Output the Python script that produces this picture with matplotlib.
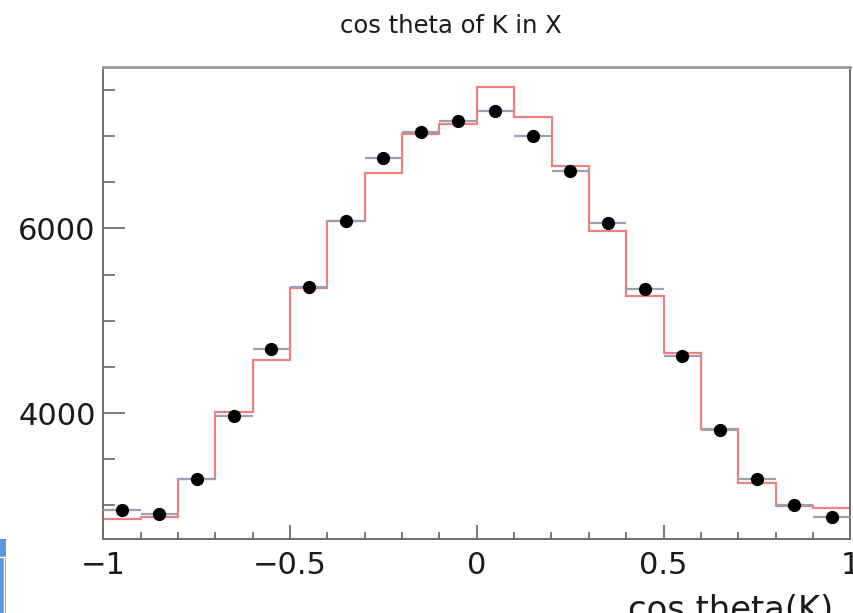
import numpy as np
import matplotlib
matplotlib.use("Agg")
import matplotlib.pyplot as plt
from matplotlib.patches import Rectangle
from matplotlib.lines import Line2D
from matplotlib.ticker import MultipleLocator

# Histogram binning: 20 bins of cos(theta) in [-1, 1]
bin_edges = np.linspace(-1.0, 1.0, 21)
bin_centers = 0.5 * (bin_edges[:-1] + bin_edges[1:])

# Measured counts (black points)
data_counts = [2946, 2902, 3286, 3971, 4696, 5366, 6076, 6761, 7047, 7160,
               7275, 6997, 6623, 6062, 5345, 4623, 3815, 3283, 3000, 2873]

# Reference histogram (red steps)
model_counts = [2855, 2878, 3286, 4015, 4576, 5355, 6076, 6605, 7022, 7130,
                7529, 7203, 6677, 5971, 5272, 4649, 3823, 3242, 2989, 2971]

title_text = "cos theta of K in X"
xlabel_text = "cos theta(K)"

W, H = 854, 613
fig = plt.figure(figsize=(W / 100, H / 100), dpi=100)
fig.patch.set_facecolor("white")

ax = fig.add_axes([103.3 / W, (H - 539.3) / H, (850.3 - 103.3) / W, (539.3 - 66.7) / H])

# Red step histogram
ax.stairs(model_counts, bin_edges, color="#ee8080", lw=1.6, baseline=None, zorder=2)

# Data points with horizontal bin-width bars
half_width = np.diff(bin_edges) / 2
ax.errorbar(bin_centers, data_counts, xerr=half_width, fmt="o", color="black",
            ecolor="#98a0b2", elinewidth=1.6, capsize=0, markersize=8.5, zorder=3)

ax.set_xlim(-1.0, 1.0)
ax.set_ylim(2632, 7752)

ax.xaxis.set_major_locator(MultipleLocator(0.5))
ax.xaxis.set_minor_locator(MultipleLocator(0.1))
ax.yaxis.set_major_locator(MultipleLocator(2000))
ax.yaxis.set_minor_locator(MultipleLocator(500))
ax.xaxis.set_major_formatter(matplotlib.ticker.FuncFormatter(
    lambda v, p: ("\u22121" if abs(v + 1) < 1e-9 else
                  "1" if abs(v - 1) < 1e-9 else
                  "0" if abs(v) < 1e-9 else
                  ("\u2212" if v < 0 else "") + f"{abs(v):g}")))

ax.tick_params(axis="both", which="both", direction="in", colors="#666666",
               labelcolor="#1a1a1a", top=False, right=False, width=1.2)
ax.tick_params(axis="x", which="major", length=10, pad=8.2, labelsize=22)
ax.tick_params(axis="x", which="minor", length=5)
ax.tick_params(axis="y", which="major", length=16, pad=5.5, labelsize=22)
ax.tick_params(axis="y", which="minor", length=8.6)

for side in ("left", "bottom", "right"):
    ax.spines[side].set_color("#6e6e6e")
    ax.spines[side].set_linewidth(1.4)
ax.spines["top"].set_color("#9a9a9a")
ax.spines["top"].set_linewidth(2.0)

fig.text(451 / W, (H - 33.3) / H, title_text, ha="center", va="baseline",
         fontsize=17.5, color="#1a1a1a")
fig.text(833 / W, (H - 619.6) / H, xlabel_text, ha="right", va="baseline",
         fontsize=24.3, color="#1a1a1a")

# Blue corner element at lower left edge
fig.patches.append(Rectangle((0, 0), 6 / W, (613 - 539) / H, transform=fig.transFigure,
                             facecolor="#5d9bd8", edgecolor="none", zorder=5))
fig.lines.append(Line2D([0, 6 / W], [(H - 557) / H] * 2, transform=fig.transFigure,
                        color="white", lw=1.0, zorder=6))
fig.lines.append(Line2D([4.5 / W, 4.5 / W], [0, (H - 557) / H], transform=fig.transFigure,
                        color="white", lw=1.0, zorder=6))

fig.savefig("out.png", dpi=100)
